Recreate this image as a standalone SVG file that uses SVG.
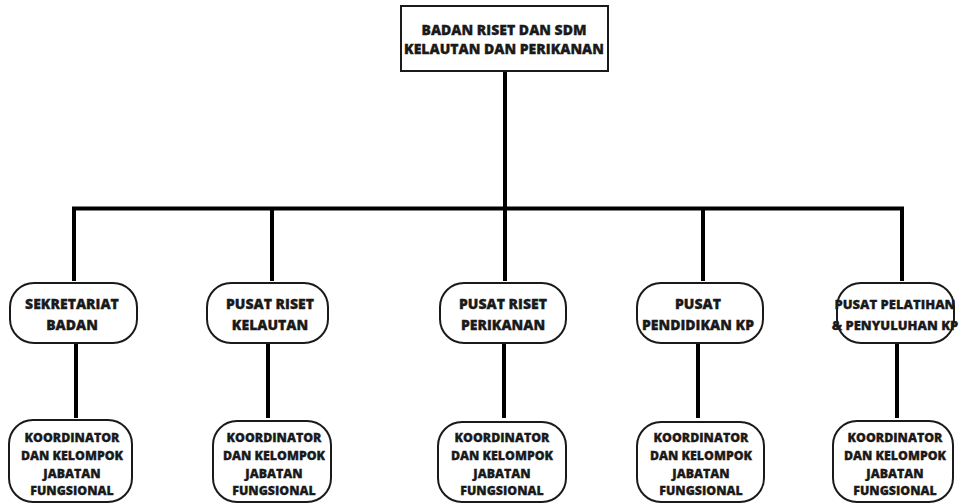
<svg xmlns="http://www.w3.org/2000/svg" width="959" height="503" viewBox="0 0 959 503">
<style>
.box{fill:#fff;stroke:#1a1a1a;stroke-width:2}
.t{font-family:"Open Sans","Liberation Sans",sans-serif;font-weight:800;fill:#1a1a1a;stroke:#1a1a1a;stroke-width:0.3;text-anchor:middle}
.t1{font-size:14px}
.t2{font-size:14px}
.t4{font-size:13px}
.t3{font-size:12.4px}
.c{stroke:#000;stroke-width:4;fill:none}
</style>
<rect width="959" height="503" fill="#fff"/>
<g id="connectors">
<line class="c" x1="505" y1="71" x2="505" y2="208.5"/>
<polyline class="c" points="74,281 74,208.5 902,208.5 902,281"/>
<line class="c" x1="272" y1="208.5" x2="272" y2="281"/>
<line class="c" x1="505" y1="208.5" x2="505" y2="281"/>
<line class="c" x1="703" y1="208.5" x2="703" y2="281"/>
<line class="c" x1="76" y1="343" x2="76" y2="418"/>
<line class="c" x1="268" y1="343" x2="268" y2="418"/>
<line class="c" x1="504" y1="343" x2="504" y2="418"/>
<line class="c" x1="698" y1="343" x2="698" y2="418"/>
<line class="c" x1="897" y1="343" x2="897" y2="418"/>
</g>
<g id="root">
<rect class="box" x="401" y="6" width="207" height="65"/>
<text class="t t1" x="504" y="35">BADAN RISET DAN SDM</text>
<text class="t t1" x="504" y="53.5">KELAUTAN DAN PERIKANAN</text>
</g>
<g id="sekretariat">
<rect class="box" x="10" y="283" width="127" height="60" rx="24"/>
<text class="t t2" x="72" y="309">SEKRETARIAT</text>
<text class="t t2" x="72" y="330">BADAN</text>
</g>
<g id="riset-kelautan">
<rect class="box" x="207" y="283" width="121" height="60" rx="24"/>
<text class="t t2" x="270" y="309">PUSAT RISET</text>
<text class="t t2" x="270" y="330">KELAUTAN</text>
</g>
<g id="riset-perikanan">
<rect class="box" x="440" y="283" width="126" height="60" rx="24"/>
<text class="t t2" x="503" y="309">PUSAT RISET</text>
<text class="t t2" x="503" y="330">PERIKANAN</text>
</g>
<g id="pendidikan">
<rect class="box" x="637" y="283" width="126" height="60" rx="24"/>
<text class="t t2" x="698" y="309">PUSAT</text>
<text class="t t2" x="698" y="330">PENDIDIKAN KP</text>
</g>
<g id="pelatihan">
<rect class="box" x="837" y="283" width="117" height="60" rx="24"/>
<text class="t t4" x="895" y="309">PUSAT PELATIHAN</text>
<text class="t t4" x="895" y="330">&amp; PENYULUHAN KP</text>
</g>
<g id="jf-sekretariat">
<rect class="box" x="9" y="420" width="123" height="82" rx="24"/>
<text class="t t3" x="72" y="442">KOORDINATOR</text>
<text class="t t3" x="72" y="460">DAN KELOMPOK</text>
<text class="t t3" x="72" y="477.5">JABATAN</text>
<text class="t t3" x="72" y="495">FUNGSIONAL</text>
</g>
<g id="jf-kelautan">
<rect class="box" x="213" y="421" width="118" height="81" rx="24"/>
<text class="t t3" x="274" y="442">KOORDINATOR</text>
<text class="t t3" x="274" y="460">DAN KELOMPOK</text>
<text class="t t3" x="274" y="477.5">JABATAN</text>
<text class="t t3" x="274" y="495">FUNGSIONAL</text>
</g>
<g id="jf-perikanan">
<rect class="box" x="438" y="422" width="128" height="80" rx="24"/>
<text class="t t3" x="502" y="442">KOORDINATOR</text>
<text class="t t3" x="502" y="460">DAN KELOMPOK</text>
<text class="t t3" x="502" y="477.5">JABATAN</text>
<text class="t t3" x="502" y="495">FUNGSIONAL</text>
</g>
<g id="jf-pendidikan">
<rect class="box" x="637" y="422" width="127" height="80" rx="24"/>
<text class="t t3" x="701" y="442">KOORDINATOR</text>
<text class="t t3" x="701" y="460">DAN KELOMPOK</text>
<text class="t t3" x="701" y="477.5">JABATAN</text>
<text class="t t3" x="701" y="495">FUNGSIONAL</text>
</g>
<g id="jf-pelatihan">
<rect class="box" x="833" y="421" width="120" height="81" rx="24"/>
<text class="t t3" x="895" y="442">KOORDINATOR</text>
<text class="t t3" x="895" y="460">DAN KELOMPOK</text>
<text class="t t3" x="895" y="477.5">JABATAN</text>
<text class="t t3" x="895" y="495">FUNGSIONAL</text>
</g>
</svg>
